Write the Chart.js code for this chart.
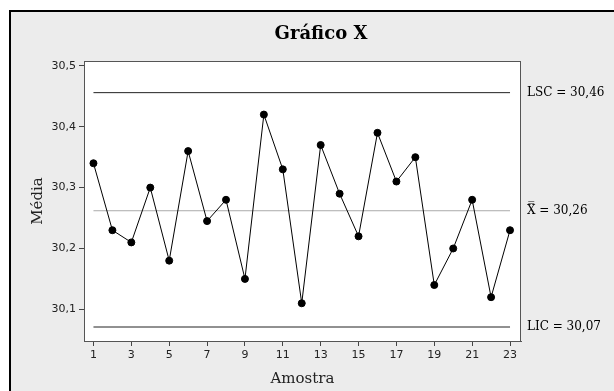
<!DOCTYPE html>
<html>
<head>
<meta charset="utf-8">
<script src="https://cdn.jsdelivr.net/npm/chart.js@4/dist/chart.umd.min.js"></script>
<style>
  body { margin: 0; background: #fff; }
  #frame {
    position: absolute; left: 9px; top: 10px; width: 620px; height: 400px;
    background: #ececec; border-left: 2px solid #000; border-top: 2px solid #000;
  }
  #wrap { position: absolute; left: 0; top: 0; width: 614px; height: 391px; }
</style>
</head>
<body>
<div id="frame"></div>
<div id="wrap"><canvas id="xChart" width="614" height="391"></canvas></div>
<script>
// amostras e médias
const samples = [1,2,3,4,5,6,7,8,9,10,11,12,13,14,15,16,17,18,19,20,21,22,23]
const means = [30.34,30.23,30.21,30.30,30.18,30.36,30.245,30.28,30.15,30.42,30.33,30.11,
  30.37,30.29,30.22,30.39,30.31,30.35,30.14,30.20,30.28,30.12,30.23]

// limites de controle
const limitNames = ["LSC", "X\u033F", "LIC"]
const limitValues = [30.456, 30.262, 30.071]
const limitColors = ["#222222", "#aaaaaa", "#222222"]

const xTicks = [1,3,5,7,9,11,13,15,17,19,21,23]
const yTicks = [30.1,30.2,30.3,30.4,30.5]

const titleText = "Gráfico X"

const fmt = (v, d) => v.toFixed(d).replace('.', ',')

const points = samples.map((s, i) => ({x: s, y: means[i]}))

const limitSets = limitValues.map((v, i) => ({
  label: limitNames[i],
  data: [{x: samples[0], y: v}, {x: samples[samples.length - 1], y: v}],
  borderColor: limitColors[i],
  borderWidth: 1,
  pointRadius: 0,
  fill: false
}))

const plotBox = {
  id: 'plotBox',
  beforeDraw(chart) {
    const {ctx, chartArea: a} = chart
    ctx.save()
    ctx.fillStyle = '#fff'
    ctx.fillRect(a.left, a.top, a.right - a.left, a.bottom - a.top)
    ctx.restore()
  },
  afterDraw(chart) {
    const {ctx, chartArea: a} = chart
    ctx.save()
    ctx.strokeStyle = '#555'
    ctx.lineWidth = 1
    ctx.strokeRect(a.left + 0.5, a.top + 0.5, a.right - a.left - 1, a.bottom - a.top)
    // título, centrado na moldura
    ctx.fillStyle = '#000'
    ctx.font = 'bold 18px "DejaVu Serif"'
    ctx.textAlign = 'center'
    ctx.textBaseline = 'middle'
    ctx.fillText(titleText, 321, 34)
    // rótulos dos limites à direita
    const ys = chart.scales.y
    ctx.font = '12px "DejaVu Serif"'
    ctx.textAlign = 'left'
    limitValues.forEach((v, i) => {
      ctx.fillText(limitNames[i] + ' = ' + fmt(v, 2), a.right + 6, ys.getPixelForValue(v))
    })
    ctx.restore()
  }
}

new Chart("xChart", {
  type: "line",
  data: {
    datasets: [{
      label: "Média",
      data: points,
      borderColor: "#000",
      backgroundColor: "#000",
      borderWidth: 1,
      pointRadius: 3.5,
      pointHoverRadius: 3.5
    }, ...limitSets]
  },
  options: {
    responsive: false,
    animation: false,
    events: [],
    layout: { padding: { left: 20, right: 93, top: 61, bottom: 0 } },
    plugins: {
      legend: { display: false },
      tooltip: { enabled: false },
      title: { display: false }
    },
    scales: {
      x: {
        type: "linear",
        min: 0.5,
        max: 23.58,
        afterBuildTicks: s => { s.ticks = xTicks.map(v => ({value: v})) },
        afterFit: s => { s.height = 50 },
        grid: { drawOnChartArea: false, tickLength: 5, color: "#444" },
        border: { color: "#555" },
        ticks: { color: "#222", padding: 3, font: { family: "DejaVu Sans", size: 11 } },
        title: {
          display: true, text: "Amostra", color: "#222",
          font: { family: "DejaVu Serif", size: 15 },
          padding: { top: 0, bottom: 3 }
        }
      },
      y: {
        min: 30.048,
        max: 30.508,
        afterBuildTicks: s => { s.ticks = yTicks.map(v => ({value: v})) },
        afterFit: s => { s.width = 64 },
        grid: { drawOnChartArea: false, tickLength: 5, color: "#444" },
        border: { color: "#555" },
        ticks: { color: "#222", padding: 3, font: { family: "DejaVu Sans", size: 11 }, callback: v => fmt(v, 1) },
        title: {
          display: true, text: "Média", color: "#222",
          font: { family: "DejaVu Serif", size: 15 },
          padding: { top: 9, bottom: 0 }
        }
      }
    }
  },
  plugins: [plotBox]
})
</script>
</body>
</html>
